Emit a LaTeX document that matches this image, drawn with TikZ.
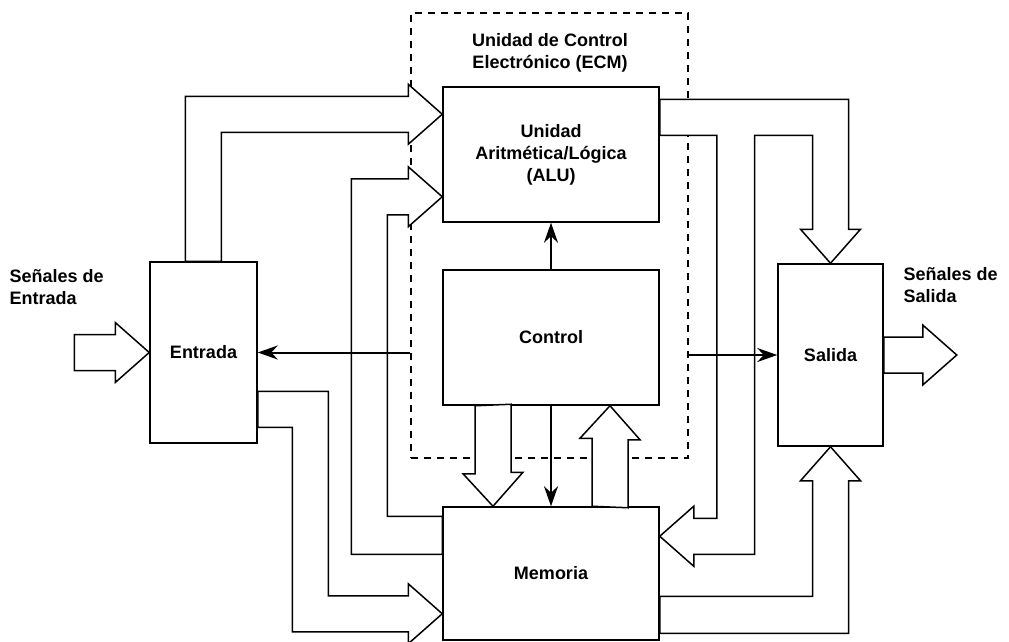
\documentclass[tikz,border=0pt]{standalone}
\usepackage{fontspec}
\setmainfont{Liberation Sans}
\usetikzlibrary{arrows.meta,positioning}

\begin{document}
\begin{tikzpicture}[
    x=1pt, y=-1pt,
    font=\fontsize{18}{22}\selectfont\bfseries,
    block/.style={rectangle, draw=black, fill=white, line width=1.5pt,
                align=center},
    ecmbox/.style={rectangle, draw=black, dashed, dash pattern=on 7pt off 6pt,
                line width=1.5pt, minimum width=277pt, minimum height=445pt},
    bus/.style={draw=black, fill=white, line width=1.5pt, line join=miter},
    arr/.style={-{Stealth[length=20pt, width=14pt]}, line width=2pt},
]
\useasboundingbox (0,0) rectangle (1009,642);

% --- ECM frame ---
\node[ecmbox] (ecm) at (549.5,235.5) {};
\node[align=center] (ecmlabel) at (550,53) {Unidad de Control\\Electrónico (ECM)};

% --- Blocks ---
\node[block, minimum width=216pt, minimum height=135pt] (alu) at (551,154.5)
  {Unidad\\Aritmética/Lógica\\(ALU)};
\node[block, minimum width=216pt, minimum height=135pt] (control) at (551,337.5) {Control};
\node[block, minimum width=216pt, minimum height=133pt] (mem) at (551,573.5) {Memoria};
\node[block, minimum width=107pt, minimum height=181pt] (entrada) at (203.5,352.5) {Entrada};
\node[block, minimum width=105pt, minimum height=182pt] (salida) at (830.5,355) {Salida};

\node[align=left, anchor=west] (insig) at (6,287) {Señales de\\Entrada};
\node[align=left, anchor=west] (outsig) at (900,285) {Señales de\\Salida};

% --- Bus tips ---
\coordinate (sigin) at ([shift={(-75,0)}]entrada.west);
\coordinate (sigout) at ([shift={(73,0)}]salida.east);
\coordinate (t1) at ([shift={(0,28)}]alu.north west);
\coordinate (t2) at ([shift={(0,-26)}]alu.south west);
\coordinate (t3) at ([shift={(0,-27)}]mem.south west);
\coordinate (tm) at ([shift={(0,30)}]mem.north east);

% --- Wide buses ---
\draw[bus] ([shift={(0,-18)}]sigin) -- ++(41,0) -- ++(0,-12) -- (entrada.west)
  -- ++(-34,30) -- ++(0,-12) -- ++(-41,0) -- cycle;
\draw[bus] ([shift={(0,-18)}]salida.east) -- ++(39,0) -- ++(0,-12) -- (sigout)
  -- ++(-34,30) -- ++(0,-12) -- ++(-39,0) -- cycle;
\draw[bus] ([shift={(36,0)}]entrada.north west) |- ([shift={(-34,-18)}]t1)
  -- ++(0,-12) -- (t1) -- ++(-34,30) -- ++(0,-12)
  -| ([shift={(72,0)}]entrada.north west) -- cycle;
\draw[bus] ([shift={(0,48)}]mem.north west) -| ([shift={(-91,-18)}]t2)
  -- ([shift={(-34,-18)}]t2) -- ++(0,-12) -- (t2) -- ++(-34,30) -- ++(0,-12)
  -- ++(-21,0) |- ([shift={(0,10)}]mem.north west) -- cycle;
\draw[bus] ([shift={(0,130)}]entrada.north east) -| ([shift={(-114,-18)}]t3)
  -- ([shift={(-34,-18)}]t3) -- ++(0,-12) -- (t3) -- ++(-34,30) -- ++(0,-12)
  -- ++(-116,0) |- ([shift={(0,166)}]entrada.north east) -- cycle;
\draw[bus] ([shift={(-76,0)}]control.south) -- ++(0,68) -- ++(-12,0)
  -- ([shift={(-58,0)}]mem.north) -- ++(30,-34) -- ++(-12,0) -- ++(0,-68) -- cycle;
\draw[bus] ([shift={(41,0)}]mem.north) -- ++(0,-68) -- ++(-12,0)
  -- ([shift={(59,0)}]control.south) -- ++(30,34) -- ++(-12,0) -- ++(0,68) -- cycle;
\draw[bus] ([shift={(0,13)}]alu.north east) -| ([shift={(18,-34)}]salida.north)
  -- ++(12,0) -- (salida.north) -- ++(-30,-34) -- ++(12,0) -- ++(0,-94) -- ++(-58,0)
  |- ([shift={(34,18)}]tm) -- ++(0,12) -- (tm) -- ++(34,-30) -- ++(0,12) -- ++(23,0)
  |- ([shift={(0,49)}]alu.north east) -- cycle;
\draw[bus] ([shift={(0,90)}]mem.north east) -| ([shift={(-18,34)}]salida.south)
  -- ++(-12,0) -- (salida.south) -- ++(30,34) -- ++(-12,0)
  |- ([shift={(0,127)}]mem.north east) -- cycle;

% --- Control lines ---
\draw[arr] (control.north) -- (alu.south);
\draw[arr] (control.south) -- (mem.north);
\draw[arr] (ecm.west |- entrada.east) -- (entrada.east);
\draw[arr] (ecm.east |- salida.west) -- (salida.west);

\end{tikzpicture}
\end{document}
